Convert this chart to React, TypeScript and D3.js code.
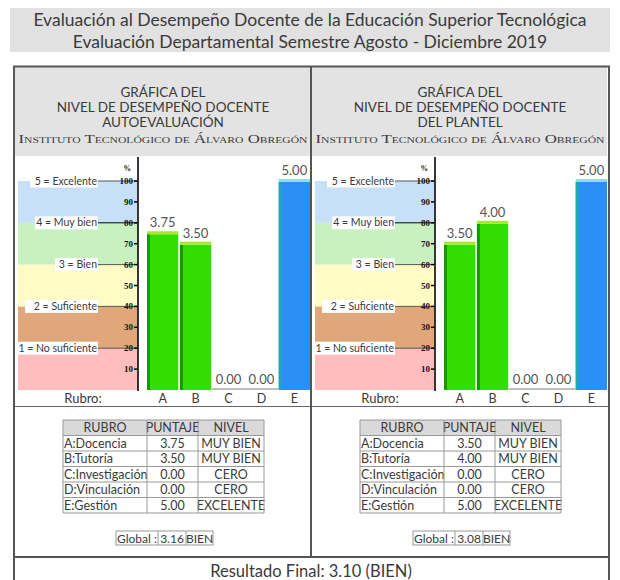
import React from "react";
import * as d3 from "d3";

const titleLines = [
  "Evaluación al Desempeño Docente de la Educación Superior Tecnológica",
  "Evaluación Departamental Semestre Agosto - Diciembre 2019",
];
const panelTitles = ["AUTOEVALUACIÓN", "DEL PLANTEL"];
const institute = "Instituto Tecnológico de Álvaro Obregón";
const categories = ["A", "B", "C", "D", "E"];
const rubros = ["A:Docencia", "B:Tutoría", "C:Investigación", "D:Vinculación", "E:Gestión"];
const autoScores = [3.75, 3.5, 0, 0, 5];
const plantelScores = [3.5, 4.0, 0, 0, 5];
const autoLevels = ["MUY BIEN", "MUY BIEN", "CERO", "CERO", "EXCELENTE"];
const plantelLevels = ["MUY BIEN", "MUY BIEN", "CERO", "CERO", "EXCELENTE"];
const globalScores = [3.16, 3.08];
const globalLevels = ["BIEN", "BIEN"];
const percentTicks = [10, 20, 30, 40, 50, 60, 70, 80, 90, 100];
const levelLabels = ["1 = No suficiente", "2 = Suficiente", "3 = Bien", "4 = Muy bien", "5 = Excelente"];
const levelPercents = [20, 40, 60, 80, 100];
const tableHeaders = ["RUBRO", "PUNTAJE", "NIVEL"];
const finalResult = "Resultado Final: 3.10 (BIEN)";

const bandColors = ["#ffbdbd", "#dfa77a", "#fefcc4", "#c9f1c0", "#c6e0f8"];
const SANS = "Lato, 'Open Sans', sans-serif";
const TXT = "#3a3a3a";

function Panel({ px, title, scores, levels, gScore, gLevel }: any) {
  const y = d3.scaleLinear().domain([0, 100]).range([390, 181]);
  const x = d3.scaleBand().domain(categories).range([px + 133, px + 296]).paddingInner(0.05).paddingOuter(0);
  const axisX = px + 124;
  const cols = [px + 49, px + 133, px + 184, px + 250];
  const rowH = 15.5;
  const tTop = 420;
  const gx = [px + 102, px + 144, px + 172, px + 199];
  const bw = x.bandwidth();
  return (
    <g>
      <rect x={px + 1} y={67} width={295} height={89} fill="#e3e3e3" />
      {["GRÁFICA DEL", "NIVEL DE DESEMPEÑO DOCENTE", title].map((t, i) => (
        <text key={i} x={px + 149} y={97 + i * 15} textAnchor="middle" fontFamily={SANS} fontSize={13.5} fill={TXT}>{t}</text>
      ))}
      <text x={px + 149} y={143} textAnchor="middle" fontFamily="'Liberation Serif', serif" fontSize={13} fill={TXT}
        style={{ fontVariant: "small-caps" }} textLength={289} lengthAdjust="spacingAndGlyphs">{institute}</text>
      {bandColors.map((c, i) => (
        <rect key={i} x={px + 4} y={y((i + 1) * 20)} width={axisX - px - 4} height={y(i * 20) - y((i + 1) * 20)} fill={c} />
      ))}
      {levelLabels.map((l, i) => {
        const yy = y(levelPercents[i]);
        const w = l.length * 5 + 2;
        const bx0 = Math.max(px + 4, px + 83 - w);
        return (
          <g key={i}>
            <line x1={px + 83} x2={axisX} y1={yy} y2={yy} stroke={levelPercents[i] === 80 ? "#000" : "#555"} strokeWidth={1} />
            <rect x={bx0} y={yy - 6.5} width={px + 84 - bx0} height={13} fill="#fff" />
            <text x={px + 83} y={yy + 3.5} textAnchor="end" fontFamily={SANS} fontSize={10.5} fill={TXT}>{l}</text>
          </g>
        );
      })}
      {percentTicks.map((t) => (
        <g key={t}>
          <line x1={axisX - 4} x2={axisX} y1={y(t)} y2={y(t)} stroke="#000" strokeWidth={1.5} />
          <text x={axisX - 5} y={y(t) + 3} textAnchor="end" fontFamily="'Liberation Serif', serif" fontWeight="bold" fontSize={9} fill="#111">{t}</text>
        </g>
      ))}
      <text x={axisX - 7} y={171} textAnchor="end" fontFamily="'Liberation Serif', serif" fontWeight="bold" fontSize={7.5} fill="#111">%</text>
      <line x1={axisX} x2={axisX} y1={157} y2={391} stroke="#222" strokeWidth={1.8} />
      {categories.map((c, i) => {
        const v = scores[i] * 20;
        const bx = x(c)!;
        const top = y(v);
        const blue = scores[i] >= 5;
        const main = blue ? "#2b8ff7" : "#33dd00";
        const side = blue ? "#1eaab4" : "#149a00";
        const cap = blue ? "#8fdcf2" : "#a8e82a";
        return (
          <g key={c}>
            {v > 0 ? (
              <>
                <rect x={bx} y={top + 1} width={bw} height={390 - top - 1} fill={main} />
                <rect x={bx} y={top + 1} width={3} height={390 - top - 1} fill={side} />
                <rect x={bx} y={top - 2} width={bw} height={3} fill={cap} />
              </>
            ) : (
              <rect x={bx - 1} y={388} width={bw + 2} height={2} fill="#bdbdbd" />
            )}
            <text x={bx + bw / 2} y={top - 6} textAnchor="middle" fontFamily={SANS} fontSize={13} fill="#555">{scores[i].toFixed(2)}</text>
            <text x={bx + bw / 2} y={403} textAnchor="middle" fontFamily={SANS} fontSize={12.5} fill={TXT}>{c}</text>
          </g>
        );
      })}
      <text x={px + 69} y={403} textAnchor="middle" fontFamily={SANS} fontSize={13} fill={TXT}>Rubro:</text>
      <line x1={px} x2={px + 297} y1={406.5} y2={406.5} stroke="#666" strokeWidth={1} />
      <rect x={cols[0]} y={tTop} width={cols[3] - cols[0]} height={rowH} fill="#d9d9d9" />
      {tableHeaders.map((h, j) => (
        <text key={h} x={(cols[j] + cols[j + 1]) / 2} y={tTop + 12} textAnchor="middle" fontFamily={SANS} fontSize={12.5} fill={TXT}>{h}</text>
      ))}
      {rubros.map((r, i) => {
        const ry = tTop + rowH * (i + 1);
        return (
          <g key={r}>
            <text x={cols[0] + 1} y={ry + 12} fontFamily={SANS} fontSize={12.5} fill={TXT}>{r}</text>
            <text x={(cols[1] + cols[2]) / 2} y={ry + 12} textAnchor="middle" fontFamily={SANS} fontSize={12.5} fill={TXT}>{scores[i].toFixed(2)}</text>
            <text x={(cols[2] + cols[3]) / 2} y={ry + 12} textAnchor="middle" fontFamily={SANS} fontSize={12.5} fill={TXT}>{levels[i]}</text>
          </g>
        );
      })}
      {d3.range(7).map((i) => (
        <line key={"h" + i} x1={cols[0]} x2={cols[3]} y1={tTop + rowH * i} y2={tTop + rowH * i} stroke="#999" strokeWidth={1} />
      ))}
      {cols.map((cx, j) => (
        <line key={"v" + j} x1={cx} x2={cx} y1={tTop} y2={tTop + rowH * 6} stroke="#999" strokeWidth={1} />
      ))}
      <rect x={gx[0]} y={531} width={gx[3] - gx[0]} height={14} fill="none" stroke="#999" />
      <line x1={gx[1]} x2={gx[1]} y1={531} y2={545} stroke="#999" />
      <line x1={gx[2]} x2={gx[2]} y1={531} y2={545} stroke="#999" />
      <text x={gx[0] + 1} y={542.5} fontFamily={SANS} fontSize={12} fill={TXT}>Global :</text>
      <text x={(gx[1] + gx[2]) / 2} y={542.5} textAnchor="middle" fontFamily={SANS} fontSize={12} fill={TXT}>{gScore.toFixed(2)}</text>
      <text x={(gx[2] + gx[3]) / 2} y={542.5} textAnchor="middle" fontFamily={SANS} fontSize={12} fill={TXT}>{gLevel}</text>
    </g>
  );
}

export default function App() {
  const panels = [
    { px: 14, scores: autoScores, levels: autoLevels },
    { px: 311, scores: plantelScores, levels: plantelLevels },
  ];
  return (
    <svg width={620} height={580} style={{ position: "absolute", left: 0, top: 0, background: "#fff" }}>
      <rect x={10} y={8} width={600} height={44} fill="#e1e1e1" />
      {titleLines.map((t, i) => (
        <text key={i} x={310} y={26 + i * 22} textAnchor="middle" fontFamily={SANS} fontSize={17.5} fill={TXT}>{t}</text>
      ))}
      {panels.map((p, i) => (
        <Panel key={i} px={p.px} title={panelTitles[i]} scores={p.scores} levels={p.levels} gScore={globalScores[i]} gLevel={globalLevels[i]} />
      ))}
      <rect x={14} y={66.5} width={595} height={530} fill="none" stroke="#555" strokeWidth={2} />
      <line x1={311} x2={311} y1={66} y2={557} stroke="#555" strokeWidth={2} />
      <line x1={14} x2={609} y1={557} y2={557} stroke="#555" strokeWidth={2} />
      <text x={311} y={577} textAnchor="middle" fontFamily={SANS} fontSize={16.5} fill={TXT}>{finalResult}</text>
    </svg>
  );
}
